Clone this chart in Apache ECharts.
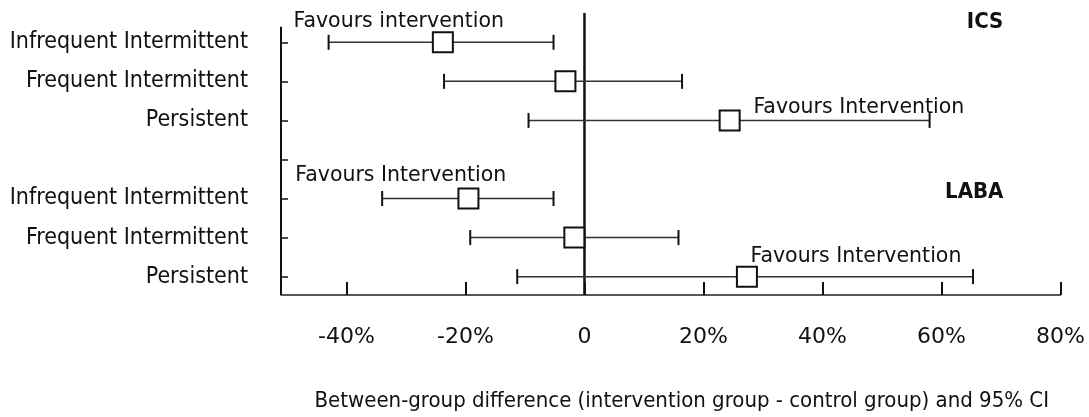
<!DOCTYPE html>
<html><head><meta charset="utf-8">
<script src="https://cdn.jsdelivr.net/npm/echarts@6/dist/echarts.min.js"></script>
<style>html,body{margin:0;background:#fff}#c{width:1089px;height:417px}</style>
</head><body><div id="c"></div>
<script>
const rowPos = [0, 1, 2, 4, 5, 6];
const rowLabels = ['Infrequent Intermittent', 'Frequent Intermittent', 'Persistent', 'Infrequent Intermittent', 'Frequent Intermittent', 'Persistent'];
const estimates = [-23.8, -3.2, 24.4, -19.5, -1.7, 27.3];
const lowerCI = [-43.0, -23.6, -9.4, -34.0, -19.2, -11.3];
const upperCI = [-5.2, 16.4, 58.0, -5.2, 15.8, 65.3];
const rowTicks = [0, 1, 2, 3, 4, 5, 6];
const xTicks = [-40, -20, 0, 20, 40, 60, 80];
const xTickLabels = ['-40%', '-20%', '0', '20%', '40%', '60%', '80%'];
const groupNames = ['ICS', 'LABA'];
const groupPos = [[70.4, -0.52], [70.4, 3.83]];
const noteText = ['Favours intervention', 'Favours Intervention', 'Favours Intervention', 'Favours Intervention'];
const notePos = [[-48.9, -0.52], [28.4, 1.67], [-48.6, 3.41], [27.9, 5.5]];
const xTitle = 'Between-group difference (intervention group - control group) and 95% CI';

const COND = "'DejaVu Sans Condensed', 'DejaVu Sans', sans-serif";
const NORM = "'DejaVu Sans', sans-serif";
const chart = echarts.init(document.getElementById('c'), null, {renderer: 'canvas'});

const ciData = rowPos.map((p, i) => [estimates[i], p, lowerCI[i], upperCI[i]]);

chart.setOption({
  animation: false,
  backgroundColor: '#fff',
  grid: {left: 281, right: 28.5, top: 13, bottom: 114, containLabel: false},
  xAxis: {
    type: 'value', min: -51, max: 80,
    axisLine: {onZero: false, lineStyle: {color: '#222', width: 1.5}},
    axisTick: {customValues: xTicks, inside: true, length: 13, lineStyle: {color: '#111', width: 2}},
    axisLabel: {customValues: xTicks, formatter: v => xTickLabels[xTicks.indexOf(v)], margin: 31, color: '#111', fontFamily: NORM, fontSize: 22},
    splitLine: {show: false},
    name: xTitle, nameLocation: 'middle', nameGap: 95,
    nameTextStyle: {color: '#111', fontFamily: COND, fontSize: 22, padding: [0, 0, 0, 22]}
  },
  yAxis: {
    type: 'value', inverse: true, min: -0.75, max: 6.47,
    axisLine: {show: false, onZero: false},
    axisTick: {customValues: rowTicks, inside: true, length: 7, lineStyle: {color: '#111', width: 1.5}},
    axisLabel: {customValues: rowPos, formatter: v => rowLabels[rowPos.indexOf(v)], margin: 33, color: '#111', fontFamily: COND, fontSize: 23},
    splitLine: {show: false}
  },
  series: [
    {
      type: 'line', data: [[-51, -0.4], [-51, 6.47]], symbol: 'none',
      lineStyle: {color: '#111', width: 2}, silent: true, z: 1
    },
    {
      type: 'line', data: [[0, -0.75], [0, 6.47]], symbol: 'none',
      lineStyle: {color: '#111', width: 2.5}, silent: true, z: 1
    },
    {
      type: 'custom', data: ciData, z: 3,
      encode: {x: [0, 2, 3], y: 1},
      renderItem: function (params, api) {
        const y = api.value(1);
        const mid = api.coord([api.value(0), y]);
        const lo = api.coord([api.value(2), y]);
        const hi = api.coord([api.value(3), y]);
        const cap = 7.5, box = 10;
        return {
          type: 'group', children: [
            {type: 'line', shape: {x1: lo[0], y1: lo[1], x2: hi[0], y2: hi[1]}, style: {stroke: '#333', lineWidth: 1.5}},
            {type: 'line', shape: {x1: lo[0], y1: lo[1] - cap, x2: lo[0], y2: lo[1] + cap}, style: {stroke: '#111', lineWidth: 2}},
            {type: 'line', shape: {x1: hi[0], y1: hi[1] - cap, x2: hi[0], y2: hi[1] + cap}, style: {stroke: '#111', lineWidth: 2}},
            {type: 'rect', shape: {x: mid[0] - box, y: mid[1] - box, width: 2 * box, height: 2 * box}, style: {fill: '#fff', stroke: '#111', lineWidth: 2}}
          ]
        };
      }
    },
    {
      type: 'scatter', symbolSize: 0, silent: true, z: 4,
      itemStyle: {opacity: 1},
      data: notePos.map((p, i) => ({value: p, name: noteText[i]})),
      label: {show: true, position: 'right', distance: 0, formatter: p => p.name, color: '#111', opacity: 1, fontFamily: NORM, fontSize: 20.5}
    },
    {
      type: 'scatter', symbolSize: 0, silent: true, z: 4,
      itemStyle: {opacity: 1},
      data: groupPos.map((p, i) => ({value: p, name: groupNames[i]})),
      label: {show: true, position: 'left', distance: 0, formatter: p => p.name, color: '#111', opacity: 1, fontFamily: COND, fontSize: 22, fontWeight: 'bold'}
    }
  ]
});
</script>
</body></html>
